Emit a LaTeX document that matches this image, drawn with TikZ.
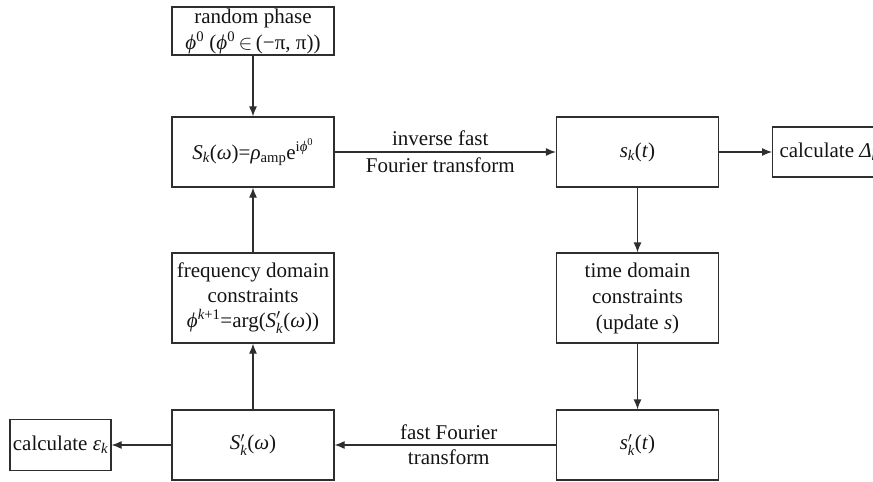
\documentclass[tikz,border=0pt]{standalone}
\usepackage{amsmath}
\usepackage{fontspec}
\setmainfont{Liberation Serif}
\usetikzlibrary{arrows.meta}
\definecolor{linec}{gray}{0.18}
\definecolor{txtc}{gray}{0.08}
\newcommand\myphi{\textit{ϕ}}
\begin{document}
\begin{tikzpicture}[x=1pt,y=-1pt,
  box/.style={draw=linec, line width=1.2pt, minimum width=162pt, minimum height=70pt,
    inner sep=0pt, align=center, text=txtc, font=\fontsize{21}{26}\selectfont},
  arr/.style={draw=linec, line width=1.2pt, -{Latex[length=10pt,width=8pt]}},
  lbl/.style={text=txtc, inner sep=0pt, font=\fontsize{21}{26}\selectfont}]
\useasboundingbox (0,0) rectangle (873,482);
\clip (0,0) rectangle (873,482);
\node[box, minimum height=48pt] (rp) at (253,31) {random phase\\\myphi$^{\text{0}}$ (\myphi$^{\text{0}}$\,$\in$\,(−π, π))};
\node[box] (Sk) at (253,152) {\textit{S}$_{\textit{k}}$(\textit{ω})=\textit{ρ}$_{\text{amp}}$e$^{\text{i}\textit{ϕ}^{\text{0}}}$};
\node[box] (sk) at (637.5,152) {\textit{s}$_{\textit{k}}$(\textit{t})};
\node[box, minimum width=125pt, minimum height=50pt, anchor=west, inner sep=3pt, align=left] (delta) at (772,152) {calculate \textit{Δ}$_{\textit{k}}$\hspace{12pt}};
\node[box, minimum height=90pt, font=\fontsize{21}{25}\selectfont] (freq) at (253,298) {frequency domain\\constraints\\\myphi$^{\textit{k}\text{+1}}$=arg(\textit{S}$'_{\textit{k}}$(\textit{ω}))};
\node[box, minimum height=90pt] (time) at (637.5,298) {time domain\\constraints\\(update \textit{s})};
\node[box] (Spk) at (253,445) {\textit{S}$'_{\textit{k}}$(\textit{ω})};
\node[box] (spk) at (637.5,445) {\textit{s}$'_{\textit{k}}$(\textit{t})};
\node[box, minimum width=101pt, minimum height=51pt] (eps) at (60.5,445) {calculate \textit{ε}$_{\textit{k}}$};
\draw[arr] (rp) -- (Sk);
\draw[arr] (Sk) -- node[lbl, yshift=14pt, xshift=-5pt] {inverse fast} node[lbl, yshift=-13pt, xshift=-5pt] {Fourier transform} (sk);
\draw[arr] (sk) -- (delta);
\draw[arr] (sk) -- (time);
\draw[arr] (time) -- (spk);
\draw[arr] (spk) -- node[lbl, yshift=13pt, xshift=3.5pt] {fast Fourier} node[lbl, yshift=-12pt, xshift=3.5pt] {transform} (Spk);
\draw[arr] (Spk) -- (eps);
\draw[arr] (Spk) -- (freq);
\draw[arr] (freq) -- (Sk);
\end{tikzpicture}
\end{document}
